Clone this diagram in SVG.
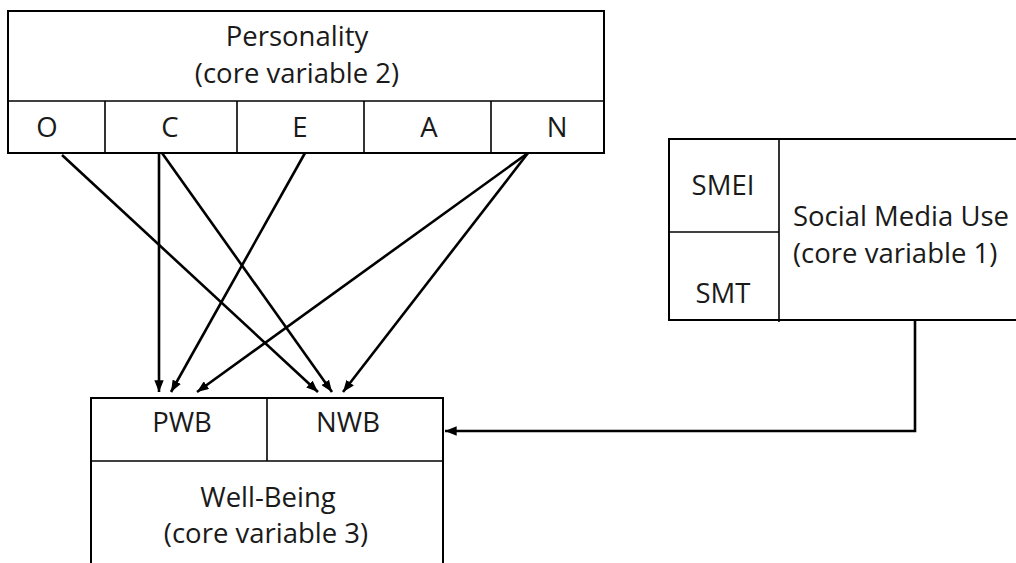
<svg xmlns="http://www.w3.org/2000/svg" width="1016" height="563" viewBox="0 0 1016 563">
<defs>
<style>
.box{fill:#fff;stroke:#000;stroke-width:2}
.ln{fill:none;stroke:#000;stroke-width:1.6}
.t{font-family:"Open Sans","Liberation Sans",sans-serif;font-size:27.5px;fill:#1a1a1a;text-anchor:middle}
.tl{font-family:"Open Sans","Liberation Sans",sans-serif;font-size:27.5px;fill:#1a1a1a}
.c{fill:none;stroke:#000;stroke-width:2.6}
</style>
<marker id="ah" viewBox="0 0 10 8" refX="10" refY="4" markerWidth="4.6" markerHeight="3.6" orient="auto" markerUnits="strokeWidth">
<path d="M0,0 L10,4 L0,8 Z" fill="#000"/>
</marker>
</defs>
<rect width="1016" height="563" fill="#fff"/>
<g id="personality">
<rect class="box" x="8" y="11" width="596" height="142"/>
<line class="ln" x1="8" y1="101" x2="604" y2="101"/>
<line class="ln" x1="105" y1="101" x2="105" y2="153"/>
<line class="ln" x1="237" y1="101" x2="237" y2="153"/>
<line class="ln" x1="364" y1="101" x2="364" y2="153"/>
<line class="ln" x1="491" y1="101" x2="491" y2="153"/>
<text class="t" x="297" y="46">Personality</text>
<text class="t" x="297" y="83">(core variable 2)</text>
<text class="t" x="47" y="137">O</text>
<text class="t" x="170" y="137">C</text>
<text class="t" x="300" y="137">E</text>
<text class="t" x="429" y="137">A</text>
<text class="t" x="557" y="137">N</text>
</g>
<g id="social-media-use">
<rect class="box" x="669" y="139" width="360" height="181"/>
<line class="ln" x1="779" y1="139" x2="779" y2="322"/>
<line class="ln" x1="669" y1="232" x2="779" y2="232"/>
<text class="t" x="723" y="195">SMEI</text>
<text class="t" x="723" y="303">SMT</text>
<text class="tl" x="793" y="226">Social Media Use</text>
<text class="tl" x="793" y="263">(core variable 1)</text>
</g>
<g id="well-being">
<rect class="box" x="91" y="398" width="352" height="180"/>
<line class="ln" x1="91" y1="461" x2="443" y2="461"/>
<line class="ln" x1="267" y1="398" x2="267" y2="461"/>
<text class="t" x="182" y="432">PWB</text>
<text class="t" x="348" y="432">NWB</text>
<text class="t" x="268" y="507">Well-Being</text>
<text class="t" x="266" y="543">(core variable 3)</text>
</g>
<g id="connectors">
<line class="c" x1="159" y1="153" x2="159" y2="392" marker-end="url(#ah)"/>
<line class="c" x1="162" y1="153" x2="332" y2="392" marker-end="url(#ah)"/>
<line class="c" x1="62" y1="155" x2="318" y2="392" marker-end="url(#ah)"/>
<line class="c" x1="305" y1="153" x2="171" y2="392" marker-end="url(#ah)"/>
<line class="c" x1="528" y1="153" x2="197" y2="392" marker-end="url(#ah)"/>
<line class="c" x1="528" y1="153" x2="343" y2="392" marker-end="url(#ah)"/>
<polyline class="c" points="915,320 915,431 445,431" marker-end="url(#ah)"/>
</g>
</svg>
